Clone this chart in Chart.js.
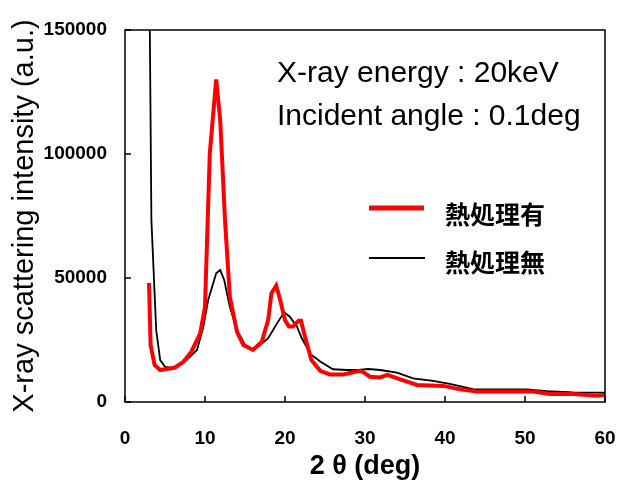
<!DOCTYPE html>
<html>
<head>
<meta charset="utf-8">
<script src="https://cdn.jsdelivr.net/npm/chart.js@4"></script>
<style>
  html, body { margin: 0; padding: 0; background: #fff; }
  #wrap { width: 621px; height: 487px; }
</style>
</head>
<body>
<div id="wrap"><canvas id="xrdBox" width="621" height="487"></canvas></div>
<script>
// 2theta (deg) and intensity (a.u.)
const redX = [3.0, 3.2, 3.7, 4.4, 5.2, 6.2, 7.3, 8.3, 9.4, 10.0, 10.6, 11.4, 11.9, 12.5, 13.1, 14.0, 14.8, 16.0, 17.1, 17.9, 18.3, 18.9, 19.4, 20.0, 20.5, 21.0, 21.7, 22.0, 22.5, 23.3, 24.4, 25.6, 27.3, 28.5, 29.4, 29.9, 30.6, 31.9, 32.8, 34.4, 36.5, 39.8, 41.9, 44.0, 49.0, 51.0, 53.1, 56.0, 59.0, 60.0];
const redY = [48000, 23000, 14900, 12900, 13300, 13800, 16200, 20300, 27700, 38400, 100300, 130100, 113700, 73400, 42500, 28300, 23000, 21000, 24300, 33100, 43800, 46900, 41100, 33000, 30400, 30400, 32800, 32800, 26300, 16900, 12600, 11100, 11100, 12000, 12600, 11800, 10200, 9900, 10900, 9100, 6900, 6500, 5100, 4200, 4200, 4200, 3200, 3200, 2500, 2800];

const blackX = [3.0, 3.3, 3.9, 4.4, 5.0, 6.0, 7.7, 9.0, 9.8, 10.4, 11.4, 11.9, 12.4, 13.1, 14.0, 15.0, 16.0, 16.9, 17.9, 19.0, 19.9, 20.6, 21.5, 22.1, 23.2, 24.4, 26.0, 27.7, 29.2, 30.4, 31.9, 34.0, 36.0, 38.5, 40.6, 43.5, 46.9, 50.2, 52.7, 56.0, 60.0];
const blackY = [190000, 73400, 29000, 16900, 14200, 13800, 16900, 21000, 30400, 41100, 51900, 53200, 49200, 38400, 29000, 23000, 21000, 23000, 25700, 31700, 36200, 34400, 30400, 25700, 19300, 16300, 13200, 12900, 12900, 13300, 12900, 11800, 9500, 8500, 7300, 5200, 5100, 5100, 4400, 3900, 3800];

const seriesNames = ['熱処理有', '熱処理無'];
const noteLines = ['X-ray energy : 20keV', 'Incident angle : 0.1deg'];
const xTicks = [0, 10, 20, 30, 40, 50, 60];
const yTicks = [0, 50000, 100000, 150000];

const toPoints = (xs, ys) => xs.map((x, i) => ({x: x, y: ys[i]}));

// box, inward ticks, notes and legend
const decorPlugin = {
    id: 'decor',
    afterDraw(chart) {
        const {ctx, chartArea: a, scales} = chart;
        ctx.save();
        ctx.strokeStyle = '#000';
        ctx.lineWidth = 1.5;
        ctx.strokeRect(a.left, a.top, a.right - a.left, a.bottom - a.top);
        ctx.beginPath();
        xTicks.forEach(v => {
            const px = scales.x.getPixelForValue(v);
            ctx.moveTo(px, a.bottom);
            ctx.lineTo(px, a.bottom - 6);
        });
        yTicks.forEach(v => {
            const py = scales.y.getPixelForValue(v);
            ctx.moveTo(a.left, py);
            ctx.lineTo(a.left + 6, py);
        });
        ctx.stroke();

        ctx.fillStyle = '#000';
        ctx.textBaseline = 'middle';
        ctx.textAlign = 'left';
        ctx.font = '30px "Liberation Sans", Arial, sans-serif';
        ctx.fillText(noteLines[0], 277, 74);
        ctx.fillText(noteLines[1], 277, 117);

        // legend
        ctx.lineCap = 'butt';
        ctx.strokeStyle = '#ff0000';
        ctx.lineWidth = 5;
        ctx.beginPath(); ctx.moveTo(369, 208); ctx.lineTo(424, 208); ctx.stroke();
        ctx.strokeStyle = '#000';
        ctx.lineWidth = 2;
        ctx.beginPath(); ctx.moveTo(369, 258); ctx.lineTo(425, 258); ctx.stroke();
        ctx.font = 'bold 25px "Noto Sans CJK JP", sans-serif';
        ctx.fillText(seriesNames[0], 445, 214);
        ctx.fillText(seriesNames[1], 445, 262);
        ctx.restore();
    }
};

const tickFont = {family: '"Liberation Sans", Arial, sans-serif', size: 19, weight: 'bold'};

const xrdConfig = {
    type: 'line',
    data: {
        datasets: [{
            label: seriesNames[0],
            data: toPoints(redX, redY),
            borderColor: '#ff0000',
            borderWidth: 4,
            pointRadius: 0,
            tension: 0
        },
        {
            label: seriesNames[1],
            data: toPoints(blackX, blackY),
            borderColor: '#000000',
            borderWidth: 1.8,
            pointRadius: 0,
            tension: 0
        }]
    },
    options: {
        responsive: false,
        animation: false,
        layout: {padding: {top: 30, right: 16, left: 0, bottom: 0}},
        scales: {
            x: {
                type: 'linear',
                min: 0,
                max: 60,
                afterFit: s => { s.height = 85; s.paddingLeft = 0; s.paddingRight = 0; },
                afterBuildTicks: s => { s.ticks = xTicks.map(v => ({value: v})); },
                grid: {drawOnChartArea: false, drawTicks: false},
                border: {display: false},
                ticks: {color: '#000', font: tickFont, padding: 25, maxRotation: 0, callback: v => String(v)},
                title: {
                    display: true,
                    text: '2 θ (deg)',
                    color: '#000',
                    font: {family: '"Liberation Sans", Arial, sans-serif', size: 27, weight: 'bold', lineHeight: 1.2},
                    padding: {top: 0, bottom: 4}
                }
            },
            y: {
                min: 0,
                max: 150000,
                afterFit: s => { s.width = 125; s.paddingTop = 0; s.paddingBottom = 0; },
                afterBuildTicks: s => { s.ticks = yTicks.map(v => ({value: v})); },
                grid: {drawOnChartArea: false, drawTicks: false},
                border: {display: false},
                ticks: {color: '#000', font: tickFont, padding: 18, callback: v => String(v)},
                title: {
                    display: true,
                    text: 'X-ray scattering intensity (a.u.)',
                    color: '#000',
                    font: {family: '"Liberation Sans", Arial, sans-serif', size: 29, lineHeight: 1.2},
                    padding: {top: 8, bottom: 0}
                }
            }
        },
        plugins: {
            legend: {display: false},
            tooltip: {enabled: false}
        }
    },
    plugins: [decorPlugin]
};

window.onload = function() {
    const ctx = document.getElementById('xrdBox').getContext('2d');
    new Chart(ctx, xrdConfig);
};
</script>
</body>
</html>
